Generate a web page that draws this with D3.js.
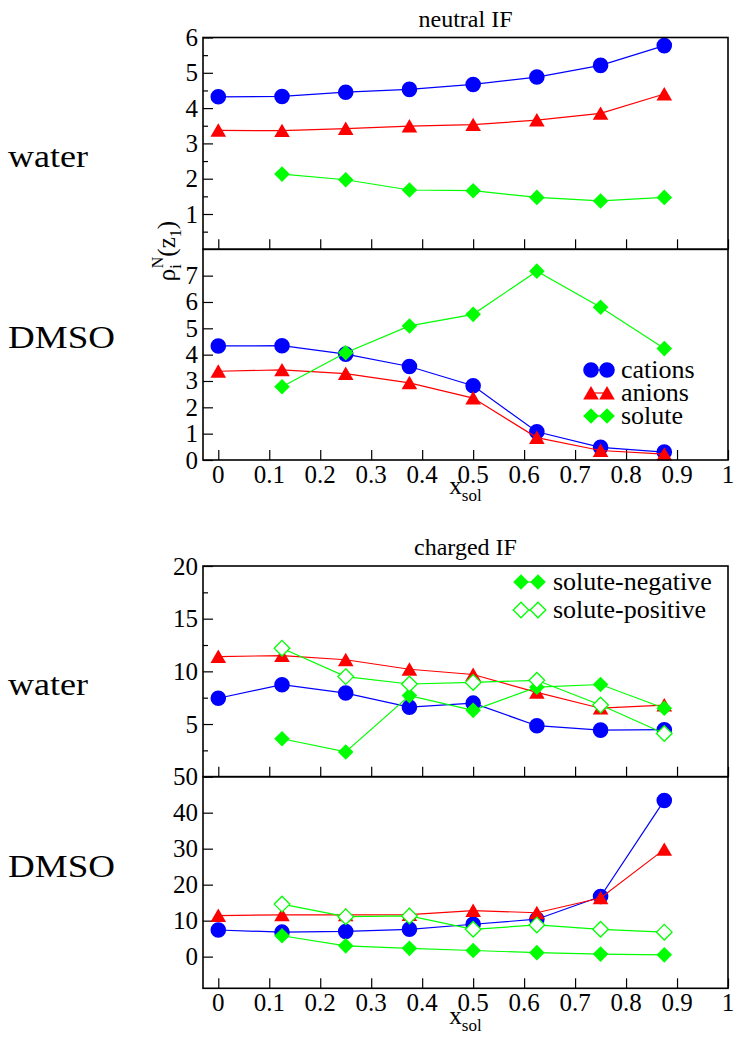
<!DOCTYPE html>
<html>
<head>
<meta charset="utf-8">
<script src="https://cdn.jsdelivr.net/npm/d3@7"></script>
<style>
  html, body { margin: 0; padding: 0; background: #fff; }
  svg { display: block; }
  svg text { font-family: "Liberation Serif", "DejaVu Serif", serif; }
</style>
</head>
<body>
<div id="chart"></div>
<script>
// mole fraction of solute
const xSol = [0, 0.125, 0.25, 0.375, 0.5, 0.625, 0.75, 0.875];

// neutral interface, water
const neutralWaterCations = [4.32, 4.33, 4.45, 4.53, 4.67, 4.88, 5.21, 5.77];
const neutralWaterAnions  = [3.37, 3.36, 3.42, 3.49, 3.53, 3.66, 3.85, 4.40];
const neutralWaterSolute  = [null, 2.13, 1.97, 1.68, 1.66, 1.47, 1.37, 1.47];

// neutral interface, DMSO
const neutralDmsoCations = [4.33, 4.34, 4.02, 3.55, 2.82, 1.07, 0.48, 0.30];
const neutralDmsoAnions  = [3.37, 3.42, 3.28, 2.93, 2.35, 0.85, 0.36, 0.22];
const neutralDmsoSolute  = [null, 2.78, 4.07, 5.09, 5.53, 7.17, 5.80, 4.23];

// charged interface, water
const chargedWaterCations = [7.45, 8.73, 7.94, 6.60, 6.98, 4.84, 4.42, 4.46];
const chargedWaterAnions  = [11.4, 11.5, 11.1, 10.2, 9.7, 8.0, 6.5, 6.8];
const chargedWaterSoluteNeg = [null, 3.6, 2.35, 7.7, 6.3, 8.5, 8.75, 6.5];
const chargedWaterSolutePos = [null, 12.2, 9.5, 8.8, 8.95, 9.15, 6.8, 4.1];

// charged interface, DMSO
const chargedDmsoCations = [7.4, 6.8, 7.0, 7.6, 9.0, 10.4, 16.7, 43.4];
const chargedDmsoAnions  = [11.4, 11.6, 11.6, 11.7, 12.8, 12.2, 16.3, 29.8];
const chargedDmsoSoluteNeg = [null, 5.8, 3.0, 2.3, 1.7, 1.1, 0.7, 0.5];
const chargedDmsoSolutePos = [null, 14.6, 11.1, 11.3, 7.6, 8.8, 7.6, 6.8];

// axis ticks
const xTicks = [0, 0.1, 0.2, 0.3, 0.4, 0.5, 0.6, 0.7, 0.8, 0.9, 1];
const yTicksNeutralWater = [1, 2, 3, 4, 5, 6];
const yTicksNeutralDmso = [0, 1, 2, 3, 4, 5, 6, 7];
const yTicksChargedWater = [5, 10, 15, 20];
const yTicksChargedDmso = [0, 10, 20, 30, 40, 50];

const width = 736, height = 1039;
const left = 203, right = 728;
const serif = "'Liberation Serif', 'DejaVu Serif', serif";

const svg = d3.select("#chart").append("svg")
  .attr("width", width)
  .attr("height", height)
  .attr("font-family", serif);

const x = d3.scaleLinear().domain([-0.03, 1]).range([left, right]);

const styles = {
  cations: { color: "#0000ff", shape: "circle", fill: true },
  anions: { color: "#ff0000", shape: "triangle", fill: true },
  solute: { color: "#00ff00", shape: "diamond", fill: true },
  soluteNeg: { color: "#00ff00", shape: "diamond", fill: true },
  solutePos: { color: "#00ff00", shape: "diamond", fill: false }
};

function markerPath(shape) {
  if (shape === "circle") return d3.symbol(d3.symbolCircle, Math.PI * 7.8 * 7.8)();
  if (shape === "triangle") return "M0,-7L7.8,6.4L-7.8,6.4Z";
  return "M0,-7.8L7.8,0L0,7.8L-7.8,0Z";
}

function drawMarker(g, style, cx, cy) {
  g.append("path")
    .attr("d", markerPath(style.shape))
    .attr("transform", `translate(${cx},${cy})`)
    .attr("fill", style.fill ? style.color : "#fff")
    .attr("stroke", style.color)
    .attr("stroke-width", style.fill ? 0 : 1.3);
}

function label(parent, size) {
  return parent.append("text").attr("font-family", serif).attr("font-size", size);
}

const panels = [
  { top: 37.5, bottom: 249.3, domain: [0, 6], ticks: yTicksNeutralWater, minor: 0.5, xLabels: false,
    series: [["cations", neutralWaterCations], ["anions", neutralWaterAnions], ["solute", neutralWaterSolute]] },
  { top: 249.3, bottom: 460, domain: [0, 8], ticks: yTicksNeutralDmso, minor: null, xLabels: true,
    series: [["cations", neutralDmsoCations], ["anions", neutralDmsoAnions], ["solute", neutralDmsoSolute]] },
  { top: 566, bottom: 776.7, domain: [0, 20], ticks: yTicksChargedWater, minor: 2.5, xLabels: false,
    series: [["cations", chargedWaterCations], ["anions", chargedWaterAnions],
             ["soluteNeg", chargedWaterSoluteNeg], ["solutePos", chargedWaterSolutePos]] },
  { top: 776.7, bottom: 988.3, domain: [-8.8, 50], ticks: yTicksChargedDmso, minor: null, xLabels: true,
    series: [["cations", chargedDmsoCations], ["anions", chargedDmsoAnions],
             ["soluteNeg", chargedDmsoSoluteNeg], ["solutePos", chargedDmsoSolutePos]] }
];

panels.forEach(p => {
  const y = d3.scaleLinear().domain(p.domain).range([p.bottom, p.top]);
  const g = svg.append("g");

  // y axis: major and minor ticks pointing inwards
  const yAxis = d3.axisRight(y).tickValues(p.ticks).tickSize(10).tickFormat("");
  g.append("g").attr("transform", `translate(${left},0)`).call(yAxis)
    .call(a => a.select(".domain").remove())
    .selectAll("line").attr("stroke", "#000").attr("stroke-width", 1.2);

  if (p.minor) {
    const minorVals = d3.range(p.domain[0] + p.minor, p.domain[1], p.minor * 2);
    g.append("g").attr("transform", `translate(${left},0)`)
      .call(d3.axisRight(y).tickValues(minorVals).tickSize(5).tickFormat(""))
      .call(a => a.select(".domain").remove())
      .selectAll("line").attr("stroke", "#000").attr("stroke-width", 1.2);
  }

  p.ticks.forEach(d => {
    label(g, 25).attr("x", left - 5).attr("y", y(d) + 8.5)
      .attr("text-anchor", "end").text(d);
  });

  // x axis ticks along the bottom edge
  g.append("g").attr("transform", `translate(0,${p.bottom})`)
    .call(d3.axisTop(x).tickValues(xTicks).tickSize(10).tickFormat(""))
    .call(a => a.select(".domain").remove())
    .selectAll("line").attr("stroke", "#000").attr("stroke-width", 1.2);

  if (p.xLabels) {
    xTicks.forEach(d => {
      label(g, 25).attr("x", x(d)).attr("y", p.bottom + 23)
        .attr("text-anchor", "middle").text(d);
    });
  }

  // data sets: line first, then symbols
  p.series.forEach(([key, vals]) => {
    const st = styles[key];
    const pts = xSol.map((xv, i) => [xv, vals[i]]).filter(d => d[1] !== null);
    g.append("path")
      .attr("d", d3.line().x(d => x(d[0])).y(d => y(d[1]))(pts))
      .attr("fill", "none")
      .attr("stroke", st.color)
      .attr("stroke-width", 1.2);
    pts.forEach(d => drawMarker(g, st, x(d[0]), y(d[1])));
  });

  g.append("rect")
    .attr("x", left).attr("y", p.top)
    .attr("width", right - left).attr("height", p.bottom - p.top)
    .attr("fill", "none").attr("stroke", "#000").attr("stroke-width", 1.6);
});

// legends
function legend(entries, sx1, sx2, tx, ys) {
  entries.forEach(([key, text], i) => {
    const st = styles[key];
    svg.append("line")
      .attr("x1", sx1).attr("x2", sx2).attr("y1", ys[i]).attr("y2", ys[i])
      .attr("stroke", st.color).attr("stroke-width", 1.2);
    drawMarker(svg, st, sx1, ys[i]);
    drawMarker(svg, st, sx2, ys[i]);
    label(svg, 26).attr("x", tx).attr("y", ys[i] + 7.5).text(text);
  });
}
legend([["cations", "cations"], ["anions", "anions"], ["solute", "solute"]], 591, 607, 621, [370, 393, 416]);
legend([["soluteNeg", "solute-negative"], ["solutePos", "solute-positive"]], 521, 538, 553, [582, 610]);

// titles
const midX = (left + right) / 2;
label(svg, 24).attr("x", midX).attr("y", 27).attr("text-anchor", "middle").text("neutral IF");
label(svg, 24).attr("x", midX).attr("y", 555).attr("text-anchor", "middle").text("charged IF");

// x axis titles
[494, 1024].forEach(yy => {
  const t = label(svg, 25).attr("x", midX).attr("y", yy).attr("text-anchor", "middle");
  t.append("tspan").text("x");
  t.append("tspan").attr("dy", 7).attr("font-size", 17).text("sol");
});

// y axis title, rotated
const yt = label(svg, 25)
  .attr("transform", "translate(175,251) rotate(-90)")
  .attr("text-anchor", "middle");
yt.append("tspan").text("ρ");
yt.append("tspan").attr("dy", 6).attr("font-size", 16).text("i");
yt.append("tspan").attr("dx", -4).attr("dy", -18).attr("font-size", 16).text("N");
yt.append("tspan").attr("dy", 12).text("(z");
yt.append("tspan").attr("dy", 6).attr("font-size", 16).text("1");
yt.append("tspan").attr("dy", -6).text(")");

// row labels
const rows = [["water", 167, 80], ["DMSO", 348, 107], ["water", 695, 80], ["DMSO", 877, 107]];
rows.forEach(([txt, yy, len]) => {
  label(svg, 31).attr("x", 8).attr("y", yy)
    .attr("textLength", len).attr("lengthAdjust", "spacingAndGlyphs")
    .text(txt);
});
</script>
</body>
</html>
